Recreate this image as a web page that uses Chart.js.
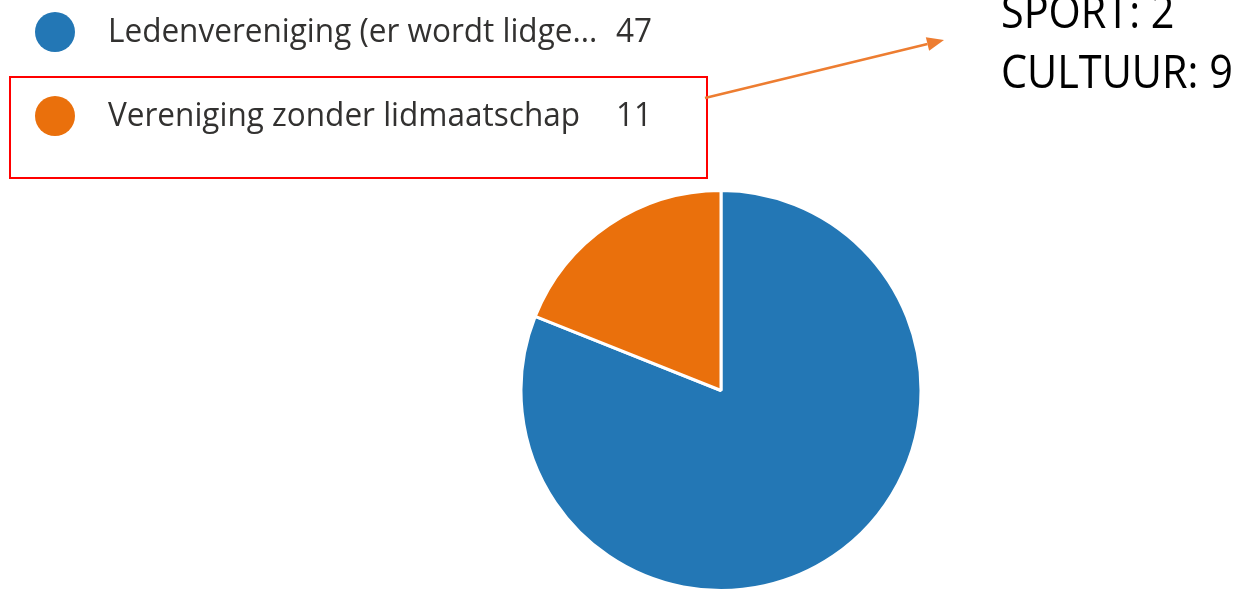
<!DOCTYPE html>
<html>
<head>
<meta charset="utf-8">
<script src="https://cdn.jsdelivr.net/npm/chart.js@4/dist/chart.umd.min.js"></script>
<style>
  html, body { margin: 0; padding: 0; background: #ffffff; }
  #wrap { width: 1240px; height: 592px; position: relative; }
</style>
</head>
<body>
<div id="wrap"><canvas id="c" width="1240" height="592"></canvas></div>
<script>
const categories = ["Ledenvereniging (er wordt lidge...", "Vereniging zonder lidmaatschap"];
const values = [47, 11];
const colors = ["#2377b5", "#ea700c"];
const noteLines = ["SPORT: 2", "CULTUUR: 9"];

const overlay = {
  id: 'overlay',
  afterDraw(chart) {
    const ctx = chart.ctx;
    ctx.save();
    // legend
    const labels = chart.data.labels;
    const data = chart.data.datasets[0].data;
    const cols = chart.data.datasets[0].backgroundColor;
    labels.forEach((lab, i) => {
      const cy = 32 + i * 84;
      const base = 42 + i * 84;
      ctx.fillStyle = cols[i];
      ctx.beginPath();
      ctx.arc(55, cy, 20, 0, Math.PI * 2);
      ctx.fill();
      ctx.fillStyle = '#323130';
      ctx.textAlign = 'left';
      ctx.textBaseline = 'alphabetic';
      ctx.font = '33px "Open Sans", sans-serif';
      ctx.save();
      ctx.translate(108, base);
      ctx.scale(0.955, 1);
      ctx.fillText(lab, 0, 0);
      ctx.restore();
      ctx.save();
      ctx.translate(616, base);
      ctx.scale(0.955, 1);
      ctx.fillText(String(data[i]), 0, 0);
      ctx.restore();
    });
    // red box
    ctx.strokeStyle = '#ff0000';
    ctx.lineWidth = 2;
    ctx.strokeRect(10, 77, 697, 101);
    // arrow
    const x1 = 705, y1 = 98, x2 = 944, y2 = 40;
    const ang = Math.atan2(y2 - y1, x2 - x1);
    const hl = 17, hw = 7;
    const bx = x2 - hl * Math.cos(ang), by = y2 - hl * Math.sin(ang);
    ctx.strokeStyle = '#ed7d31';
    ctx.fillStyle = '#ed7d31';
    ctx.lineWidth = 2.5;
    ctx.beginPath();
    ctx.moveTo(x1, y1);
    ctx.lineTo(bx, by);
    ctx.stroke();
    ctx.beginPath();
    ctx.moveTo(x2, y2);
    ctx.lineTo(bx + hw * Math.sin(ang), by - hw * Math.cos(ang));
    ctx.lineTo(bx - hw * Math.sin(ang), by + hw * Math.cos(ang));
    ctx.closePath();
    ctx.fill();
    // note text
    ctx.fillStyle = '#000000';
    ctx.font = '45px "Open Sans", sans-serif';
    ctx.textBaseline = 'alphabetic';
    noteLines.forEach((t, i) => {
      ctx.save();
      ctx.translate(1001, 28 + i * 59.5);
      ctx.scale(0.92, 1);
      ctx.fillText(t, 0, 0);
      ctx.restore();
    });
    ctx.restore();
  }
};

new Chart(document.getElementById('c'), {
  type: 'pie',
  data: {
    labels: categories,
    datasets: [{
      data: values,
      backgroundColor: colors,
      borderColor: '#ffffff',
      borderWidth: 3,
      hoverOffset: 0
    }]
  },
  options: {
    responsive: false,
    animation: false,
    layout: { padding: { left: 518, right: 316, top: 189, bottom: -3 } },
    plugins: { legend: { display: false }, tooltip: { enabled: false } }
  },
  plugins: [overlay]
});
</script>
</body>
</html>
